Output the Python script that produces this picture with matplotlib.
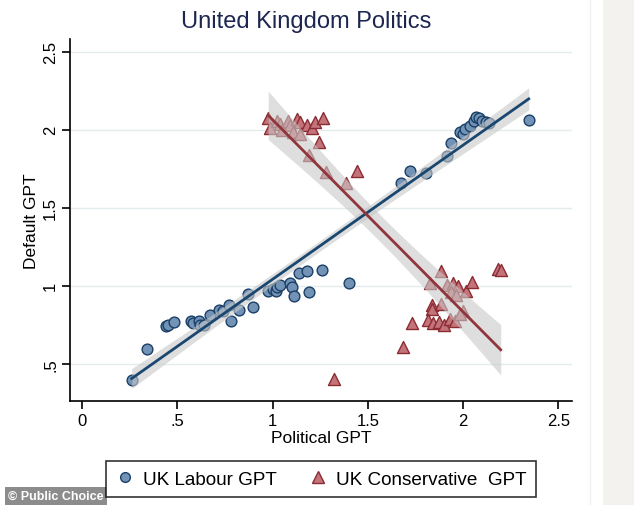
import numpy as np
import matplotlib
matplotlib.use("Agg")
import matplotlib.pyplot as plt
from matplotlib.lines import Line2D
from matplotlib.patches import Rectangle

plt.rcParams['font.family'] = ['Liberation Sans', 'DejaVu Sans']

# ---- data ----
labour_x = [0.261, 0.339, 0.441, 0.451, 0.483, 0.570, 0.581, 0.615, 0.619, 0.640,
            0.672, 0.720, 0.740, 0.771, 0.780, 0.824, 0.872, 0.899, 0.977, 1.000,
            1.018, 1.023, 1.039, 1.091, 1.103, 1.114, 1.140, 1.179, 1.193, 1.261,
            1.402, 1.672, 1.722, 1.803, 1.913, 1.934, 1.983, 2.000, 2.010, 2.036,
            2.057, 2.067, 2.083, 2.099, 2.120, 2.135, 2.344]
labour_y = [0.395, 0.594, 0.744, 0.750, 0.765, 0.774, 0.763, 0.774, 0.748, 0.750,
            0.812, 0.846, 0.838, 0.876, 0.776, 0.844, 0.945, 0.865, 0.966, 0.979,
            0.966, 0.990, 1.004, 1.017, 0.994, 0.936, 1.081, 1.092, 0.958, 1.103,
            1.015, 1.656, 1.733, 1.720, 1.833, 1.913, 1.983, 1.972, 2.005, 2.024,
            2.056, 2.081, 2.075, 2.056, 2.049, 2.043, 2.062]

cons_x = [0.977, 0.986, 1.021, 1.039, 1.048, 1.082, 1.091, 1.109, 1.130, 1.144,
          1.144, 1.179, 1.205, 1.222, 1.263, 1.243, 1.193, 1.280, 1.385, 1.441,
          1.883, 1.826, 1.913, 1.948, 1.974, 1.934, 1.962, 2.015, 2.045, 1.835,
          1.835, 1.883, 1.733, 1.817, 1.843, 1.875, 1.899, 1.931, 1.957, 2.000,
          1.983, 1.683, 1.322, 2.184, 2.197]
cons_y = [2.073, 2.009, 2.058, 2.037, 1.998, 2.058, 2.030, 1.983, 2.069, 1.972,
          2.047, 2.030, 2.009, 2.051, 2.073, 1.919, 1.838, 1.727, 1.658, 1.737,
          1.096, 1.015, 1.004, 1.017, 0.998, 0.958, 0.938, 0.969, 1.022, 0.874,
          0.849, 0.880, 0.763, 0.780, 0.761, 0.769, 0.748, 0.787, 0.776, 0.840,
          0.819, 0.605, 0.402, 1.107, 1.103]

x_ticks = [0, 0.5, 1, 1.5, 2, 2.5]
x_tick_labels = ["0", ".5", "1", "1.5", "2", "2.5"]
y_ticks = [0.5, 1, 1.5, 2, 2.5]
y_tick_labels = [".5", "1", "1.5", "2", "2.5"]

title = "United Kingdom Politics"
labels = ["UK Labour GPT", "UK Conservative  GPT"]

NAVY = "#1a476f"
MAROON = "#90353b"


def fit_ci(x, y, n_pts=100):
    x = np.asarray(x); y = np.asarray(y)
    n = len(x)
    b, a = np.polyfit(x, y, 1)
    xs = np.linspace(x.min(), x.max(), n_pts)
    yhat = a + b * xs
    resid = y - (a + b * x)
    s = np.sqrt(np.sum(resid ** 2) / (n - 2))
    sxx = np.sum((x - x.mean()) ** 2)
    se = s * np.sqrt(1.0 / n + (xs - x.mean()) ** 2 / sxx)
    t = 2.01
    return xs, yhat, yhat - t * se, yhat + t * se


fig = plt.figure(figsize=(6.34, 5.06), dpi=100)
fig.patch.set_facecolor("white")

# right grey strip
fig.patches.append(Rectangle((603 / 634, 0), 31 / 634, 1, transform=fig.transFigure,
                             facecolor="#f4f2ee", edgecolor="none", zorder=0))
fig.add_artist(Line2D([590 / 634, 590 / 634], [0, 1], transform=fig.transFigure,
                      color="#eef2f2", lw=1))

ax = fig.add_axes([70 / 634, 1 - 401.7 / 506, (572 - 70) / 634, (401.7 - 40) / 506])
ax.set_xlim(-0.063, 2.571)
ax.set_ylim(0.263, 2.581)

for yt in y_ticks:
    ax.axhline(yt, color="#e4ecef", lw=1.0, zorder=0)

ax.scatter(labour_x, labour_y, s=60, marker="o", facecolor="#7393b6",
           edgecolor="#1a3f66", linewidth=1.0, zorder=2)
ax.scatter(cons_x, cons_y, s=75, marker="^", facecolor="#c4737a",
           edgecolor="#8b2c33", linewidth=1.0, zorder=2)

for xv, yv, col in [(labour_x, labour_y, NAVY), (cons_x, cons_y, MAROON)]:
    xs, yh, lo, hi = fit_ci(xv, yv)
    ax.fill_between(xs, lo, hi, color="#c8c8c8", alpha=0.6, lw=0, zorder=3)
    ax.plot(xs, yh, color=col, lw=2.0, zorder=4)

for sp in ["top", "right"]:
    ax.spines[sp].set_visible(False)
for sp in ["left", "bottom"]:
    ax.spines[sp].set_color("black")
    ax.spines[sp].set_linewidth(1.2)

ax.set_xticks(x_ticks)
ax.set_xticklabels(x_tick_labels, fontsize=12)
ax.set_yticks(y_ticks)
ax.set_yticklabels(y_tick_labels, fontsize=12, rotation=90, va="center")
ax.tick_params(direction="out", length=5.5, width=1.2, color="black", pad=3)

ax.set_xlabel("Political GPT", fontsize=12.5, labelpad=2)
ax.set_ylabel("Default GPT", fontsize=12.5, labelpad=3)

fig.text(306 / 634, 1 - 22 / 506, title, fontsize=17, color="#1c2650",
         ha="center", va="center")

# legend
handles = [Line2D([], [], marker="o", ls="none", markersize=7, markerfacecolor="#7393b6",
                  markeredgecolor="#1a3f66"),
           Line2D([], [], marker="^", ls="none", markersize=8, markerfacecolor="#c4737a",
                  markeredgecolor="#8b2c33")]
leg = fig.legend(handles, labels, loc="center", bbox_to_anchor=(321 / 634, 1 - 480 / 506),
                 ncol=2, fontsize=13.6, frameon=True, fancybox=False, edgecolor="black",
                 handletextpad=0.45, columnspacing=1.7, borderpad=0.5, borderaxespad=0,
                 handlelength=1.0)
leg.get_frame().set_linewidth(1.2)

# credit
fig.text(8 / 634, 1 - 497 / 506, "© Public Choice", fontsize=9, color="white",
         fontweight="bold", ha="left", va="center",
         bbox=dict(boxstyle="square,pad=0.25", facecolor="#8c8c8c", edgecolor="none"))

fig.savefig("out.png", dpi=100)
